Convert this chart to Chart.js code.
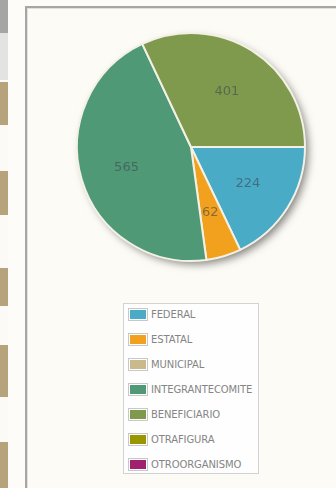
<!DOCTYPE html>
<html>
<head>
<meta charset="utf-8">
<script src="https://cdn.jsdelivr.net/npm/chart.js@4/dist/chart.umd.min.js"></script>
<style>
    html, body { margin: 0; padding: 0; }
    body { width: 336px; height: 488px; overflow: hidden; background: #fdfcf8; position: relative; font-family: 'DejaVu Sans', sans-serif; }
    #strip { position: absolute; left: 0; top: 0; width: 8px; height: 488px; background: #fbfaf6; }
    #strip div { position: absolute; left: 0; width: 8px; }
    #frame { position: absolute; left: 25px; top: 6px; width: 330px; height: 500px; border: 2px solid #a6a6a6; background: #fdfbf5; box-shadow: inset 1px 1px 0 #e2e0da; }
    #pie-wrap { position: absolute; left: 63px; top: 19px; width: 256px; height: 256px; }
    #legend { position: absolute; left: 123px; top: 303px; width: 134px; height: 169px; border: 1px solid #d2d2d2; background: #fefefe; overflow: hidden; }
    #legend ul { list-style: none; margin: -2px 0 0 0; padding: 0; }
    #legend li { height: 25px; display: flex; align-items: center; }
    #legend .sw { width: 16px; height: 9px; margin-left: 4px; border: 1px solid #c8c8c8; padding: 1px; background: #fff; }
    #legend .sw span { display: block; width: 100%; height: 100%; }
    #legend .txt { margin-left: 3px; font-size: 10px; color: #858585; white-space: nowrap; letter-spacing: -0.1px; }
</style>
</head>
<body>
<div id="strip"></div>
<div id="frame"></div>
<div id="pie-wrap"><canvas id="pieChart"></canvas></div>
<div id="legend"><ul></ul></div>

<script>
// Données du graphique
const categories = ['FEDERAL', 'ESTATAL', 'MUNICIPAL', 'INTEGRANTECOMITE', 'BENEFICIARIO', 'OTRAFIGURA', 'OTROORGANISMO'];
const values = [224, 62, 0, 565, 401, 0, 0];
const colors = ['#4aabc7', '#f2a11f', '#c9b98b', '#4f9977', '#7f9a4d', '#9a9600', '#a1206f'];

// Bandeau de gauche (fond de page)
const stripBlocks = [
    [0, 33, '#a5a5a5'], [33, 80, '#e3e3e3'], [82, 125, '#b7a37b'],
    [171, 215, '#b7a37b'], [268, 306, '#b7a37b'], [345, 397, '#b7a37b'], [442, 488, '#b7a37b']
];
const strip = document.getElementById('strip');
stripBlocks.forEach(([y0, y1, c]) => {
    const d = document.createElement('div');
    d.style.top = y0 + 'px';
    d.style.height = (y1 - y0) + 'px';
    d.style.background = c;
    strip.appendChild(d);
});

// Ombre portée sous le camembert
const shadowPlugin = {
    id: 'pieShadow',
    beforeDatasetsDraw(chart) {
        const arc = chart.getDatasetMeta(0).data[0];
        if (!arc) return;
        const ctx = chart.ctx;
        ctx.save();
        ctx.shadowColor = 'rgba(0, 0, 0, 0.5)';
        ctx.shadowBlur = 8;
        ctx.shadowOffsetX = 4;
        ctx.shadowOffsetY = 4;
        ctx.fillStyle = '#fdfbf5';
        ctx.beginPath();
        ctx.arc(arc.x, arc.y, arc.outerRadius - 1, 0, Math.PI * 2);
        ctx.fill();
        ctx.restore();
    }
};

// Valeurs affichées dans chaque part
const valueLabels = {
    id: 'valueLabels',
    afterDatasetsDraw(chart) {
        const ctx = chart.ctx;
        const meta = chart.getDatasetMeta(0);
        ctx.save();
        ctx.font = '13px "DejaVu Sans", sans-serif';
        ctx.fillStyle = 'rgba(60, 72, 82, 0.6)';
        ctx.textAlign = 'center';
        ctx.textBaseline = 'middle';
        meta.data.forEach((arc, i) => {
            const v = chart.data.datasets[0].data[i];
            if (!v) return;
            const a = (arc.startAngle + arc.endAngle) / 2;
            const r = arc.outerRadius * 0.59;
            ctx.fillText(String(v), arc.x + Math.cos(a) * r, arc.y + Math.sin(a) * r + 1);
        });
        ctx.restore();
    }
};

const ctxPie = document.getElementById('pieChart').getContext('2d');
const pieChart = new Chart(ctxPie, {
    type: 'pie',
    data: {
        labels: categories,
        datasets: [{
            data: values,
            backgroundColor: colors,
            borderColor: '#f3f1e6',
            borderWidth: 2
        }]
    },
    options: {
        responsive: true,
        maintainAspectRatio: false,
        animation: false,
        rotation: 90,
        layout: { padding: 13 },
        plugins: {
            legend: { display: false },
            tooltip: { enabled: false }
        }
    },
    plugins: [shadowPlugin, valueLabels]
});

// Légende HTML construite depuis le graphique
const ul = document.querySelector('#legend ul');
pieChart.options.plugins.legend.labels.generateLabels(pieChart).forEach(item => {
    const li = document.createElement('li');
    li.innerHTML = '<div class="sw"><span style="background:' + item.fillStyle + '"></span></div>' +
        '<div class="txt">' + item.text + '</div>';
    ul.appendChild(li);
});
</script>
</body>
</html>
